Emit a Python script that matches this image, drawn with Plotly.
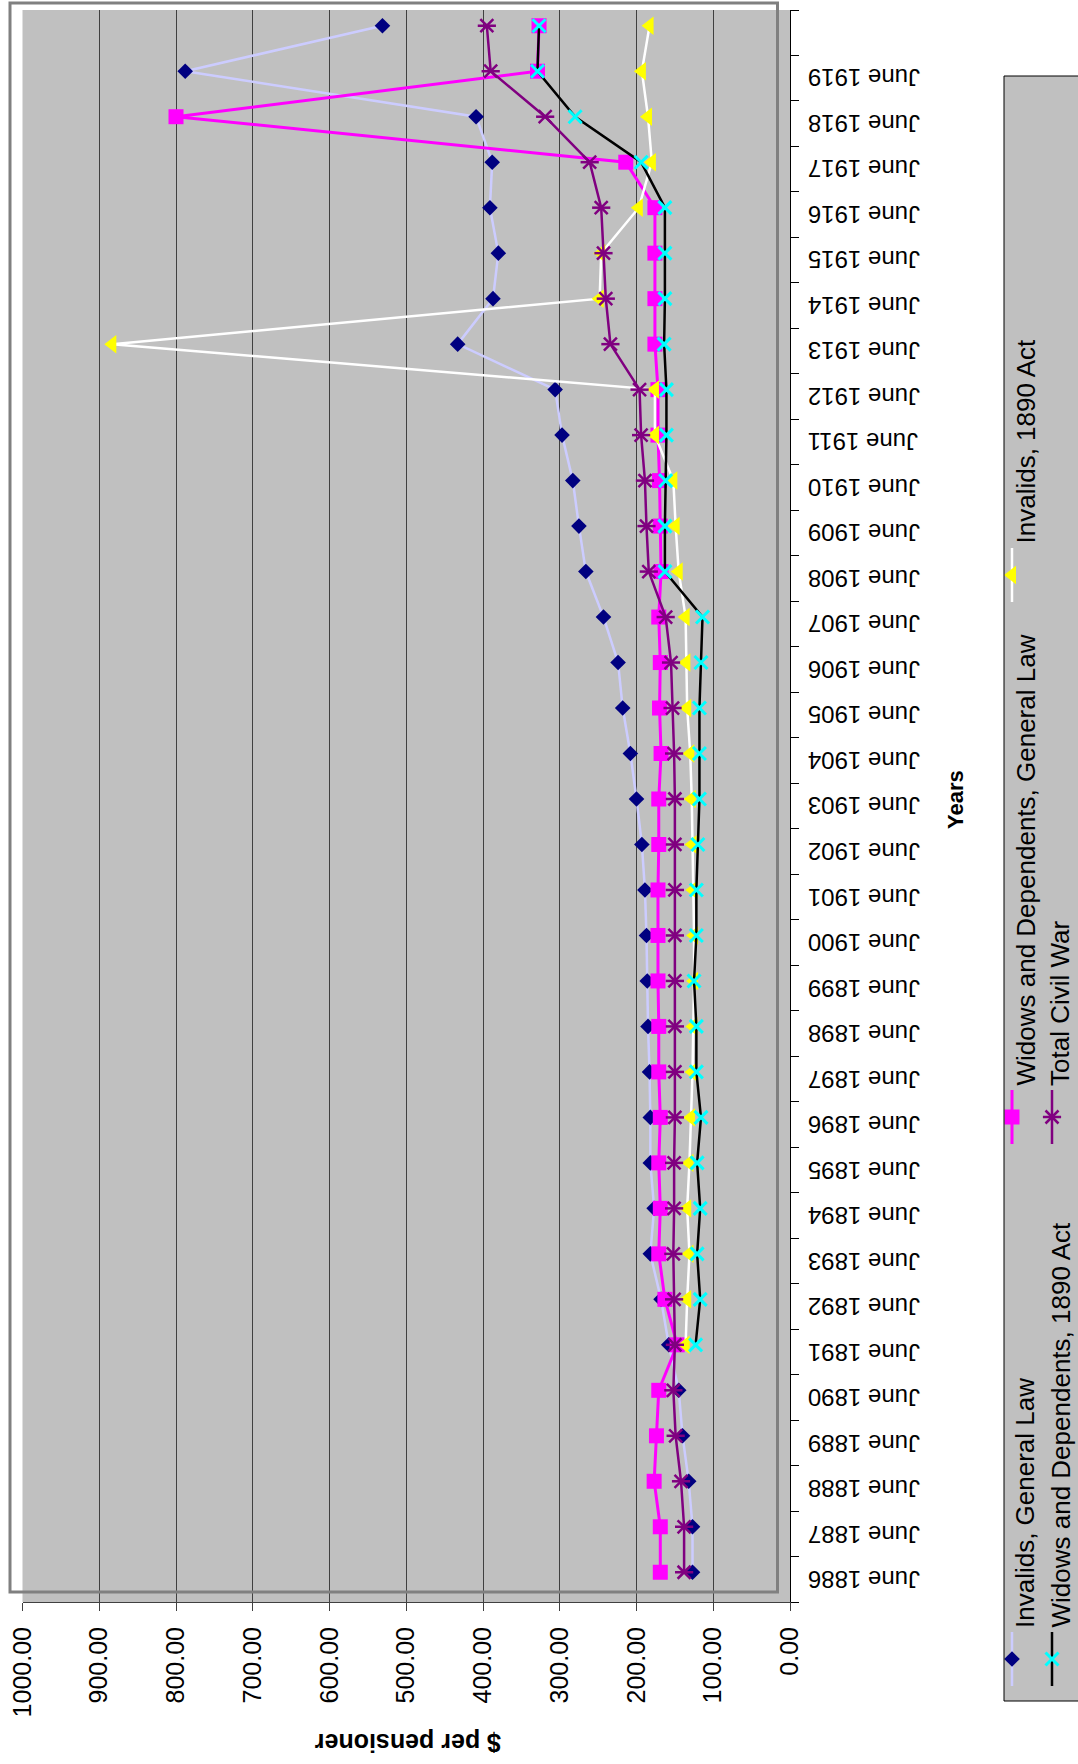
import plotly.graph_objects as go

W, H = 1078, 1764
FONT = "Liberation Sans, Arial, sans-serif"

# ---------------- data ----------------
categories = [
    "June 1886", "June 1887", "June 1888", "June 1889", "June 1890",
    "June 1891", "June 1892", "June 1893", "June 1894", "June 1895",
    "June 1896", "June 1897", "June 1898", "June 1899", "June 1900",
    "June 1901", "June 1902", "June 1903", "June 1904", "June 1905",
    "June 1906", "June 1907", "June 1908", "June 1909", "June 1910",
    "June 1911", "June 1912", "June 1913", "June 1914", "June 1915",
    "June 1916", "June 1917", "June 1918", "June 1919", "",
]

invalids_general = [127, 127, 132, 140, 145, 158, 168, 182, 177, 182,
                    182, 183, 185, 186, 187, 189, 193, 200, 208, 218,
                    224, 243, 266, 275, 283, 297, 306, 433, 387, 380,
                    391, 388, 409, 788, 531]
widows_general = [169, 169, 177, 174, 171, 147, 163, 171, 169, 171,
                  169, 171, 171, 172, 172, 172, 171, 171, 168, 170,
                  169, 171, 168, 169, 170, 172, 172, 176, 176, 176,
                  176, 214, 800, 329, 327]
invalids_1890 = [None, None, None, None, None, 136, 134, 131, 134, 131,
                 129, 127, 126, 125, 125, 126, 127, 128, 130, 134,
                 135, 136, 145, 149, 152, 176, 176, 883, 248, 246,
                 197, 180, 185, 193, 183]
widows_1890 = [None, None, None, None, None, 123, 117, 121, 117, 121,
               116, 122, 122, 125, 122, 122, 120, 118, 118, 118,
               116, 114, 163, 163, 162, 161, 161, 164, 163, 163,
               163, 194, 280, 329, 327]
total_civil_war = [138, 138, 142, 149, 152, 150, 151, 152, 151, 151,
                   150, 150, 150, 150, 150, 150, 150, 150, 151, 153,
                   155, 162, 184, 187, 189, 194, 196, 234, 240, 243,
                   246, 261, 319, 390, 395]

value_ticks = [0, 100, 200, 300, 400, 500, 600, 700, 800, 900, 1000]

series_names = ["Invalids, General Law", "Widows and Dependents, General Law",
                "Invalids, 1890 Act", "Widows and Dependents, 1890 Act",
                "Total Civil War"]

# ---------------- helpers ----------------
def px(p):
    return p / W

def py(p):
    return 1 - p / H

idx = list(range(len(categories)))

DIAMOND = dict(symbol="diamond", size=12, color="#000080", line=dict(width=0))
SQUARE = dict(symbol="square", size=15, color="#FF00FF", line=dict(width=0))
TRIANGLE = dict(symbol="triangle-left", size=16, color="#FFFF00", line=dict(width=0))
XMARK = dict(symbol="x-thin-open", size=13, color="#00FFFF",
             line=dict(width=3, color="#00FFFF"))
STAR_X = dict(symbol="x-thin-open", size=13, color="#800080",
              line=dict(width=2.5, color="#800080"))
STAR_BAR = dict(symbol="line-ew-open", size=13, color="#800080",
                line=dict(width=2.5, color="#800080"))

fig = go.Figure()

fig.add_trace(go.Scatter(x=invalids_general, y=idx, mode="lines+markers",
                         line=dict(color="#CCCCFF", width=2.5), marker=DIAMOND,
                         cliponaxis=False, name=series_names[0]))
fig.add_trace(go.Scatter(x=widows_general, y=idx, mode="lines+markers",
                         line=dict(color="#FF00FF", width=3), marker=SQUARE,
                         cliponaxis=False, name=series_names[1]))
fig.add_trace(go.Scatter(x=invalids_1890, y=idx, mode="lines+markers",
                         line=dict(color="#FFFFFF", width=2.5), marker=TRIANGLE,
                         cliponaxis=False, name=series_names[2]))
fig.add_trace(go.Scatter(x=widows_1890, y=idx, mode="lines+markers",
                         line=dict(color="#000000", width=2.5), marker=XMARK,
                         cliponaxis=False, name=series_names[3]))
fig.add_trace(go.Scatter(x=total_civil_war, y=idx, mode="lines+markers",
                         line=dict(color="#800080", width=2.5), marker=STAR_X,
                         cliponaxis=False, name=series_names[4]))
fig.add_trace(go.Scatter(x=total_civil_war, y=idx, mode="markers", marker=STAR_BAR,
                         cliponaxis=False, showlegend=False))

# ---------------- hand-built legend (rotated) ----------------
LEG_X0, LEG_Y0, LEG_Y1 = 1004, 76, 1701
legend_items = [
    (0, 1012, 1659, "#CCCCFF", [DIAMOND]),
    (3, 1052, 1659, "#000000", [XMARK]),
    (1, 1012, 1117, "#FF00FF", [SQUARE]),
    (4, 1052, 1117, "#800080", [STAR_X, STAR_BAR]),
    (2, 1012, 575, "#FFFFFF", [TRIANGLE]),
]
annotations = []
for ni, cx, my, lc, mks in legend_items:
    fig.add_trace(go.Scatter(x=[cx, cx], y=[my - 27, my + 27], mode="lines",
                             line=dict(color=lc, width=3 if lc == "#FF00FF" else 2.5),
                             xaxis="x2", yaxis="y2", showlegend=False))
    for mk in mks:
        fig.add_trace(go.Scatter(x=[cx], y=[my], mode="markers", marker=mk,
                                 xaxis="x2", yaxis="y2", showlegend=False))
    tx = 1025 if cx == 1012 else 1060
    annotations.append(dict(x=px(tx), y=py(my - 29), xref="paper", yref="paper",
                            text=series_names[ni], textangle=-90, showarrow=False,
                            xanchor="center", yanchor="bottom",
                            font=dict(size=26, family=FONT, color="black")))

# category labels (upside down, like the rotated original)
for i, lab in enumerate(categories):
    if lab:
        annotations.append(dict(x=px(806), y=i - 0.154, xref="paper", yref="y",
                                text=lab, textangle=180, showarrow=False,
                                xanchor="left", yanchor="middle",
                                font=dict(size=24, family=FONT, color="black")))

annotations.append(dict(x=px(955), y=py(800), xref="paper", yref="paper",
                        text="<b>Years</b>", textangle=-90, showarrow=False,
                        xanchor="center", yanchor="middle",
                        font=dict(size=22, family=FONT, color="black")))
annotations.append(dict(x=px(408), y=py(1743), xref="paper", yref="paper",
                        text="<b>$ per pensioner</b>", textangle=180, showarrow=False,
                        xanchor="center", yanchor="middle",
                        font=dict(size=25, family=FONT, color="black")))

shapes = [
    dict(type="rect", xref="paper", yref="paper", x0=px(10), x1=px(777.5),
         y0=py(1592), y1=py(3), line=dict(color="#808080", width=3), layer="above"),
    dict(type="rect", xref="paper", yref="paper", x0=px(LEG_X0), x1=px(1090),
         y0=py(LEG_Y1), y1=py(LEG_Y0), line=dict(color="#000000", width=1), layer="above"),
]

n = len(categories)
fig.update_layout(
    width=W, height=H, template="none",
    margin=dict(l=0, r=0, t=0, b=0, pad=0),
    paper_bgcolor="white", plot_bgcolor="#C0C0C0",
    showlegend=False, hovermode=False,
    font=dict(family=FONT, color="black"),
    xaxis=dict(domain=[px(22.5), px(790)], range=[1000, 0], anchor="y",
               tickmode="array", tickvals=value_ticks, tickformat=".2f",
               tickangle=-90, ticks="outside", ticklen=8, tickwidth=1,
               tickcolor="#404040", showgrid=True, gridcolor="#404040", gridwidth=1,
               showline=True, linecolor="#404040", linewidth=1, zeroline=False,
               ticklabelstandoff=6,
               tickfont=dict(size=25, family=FONT, color="black"), automargin=False),
    yaxis=dict(domain=[py(1602), py(10)], range=[-0.654, n - 1 + 0.346], anchor="x",
               side="right", tickmode="array",
               tickvals=[k + 0.346 for k in range(-1, n)],
               showticklabels=False, ticks="outside", ticklen=8, tickwidth=1,
               tickcolor="#000000", showgrid=False, zeroline=False,
               showline=True, linecolor="#000000", linewidth=1, automargin=False),
    xaxis2=dict(domain=[px(LEG_X0), 1.0], range=[LEG_X0, W], anchor="y2",
                visible=False, showgrid=False, zeroline=False),
    yaxis2=dict(domain=[py(LEG_Y1), py(LEG_Y0)], range=[LEG_Y1, LEG_Y0], anchor="x2",
                visible=False, showgrid=False, zeroline=False),
    annotations=annotations, shapes=shapes,
)

fig.write_html("out.html",
               config={"displayModeBar": False, "staticPlot": True},
               post_script="document.body.style.margin='0px';"
                           "document.body.style.overflow='hidden';")
